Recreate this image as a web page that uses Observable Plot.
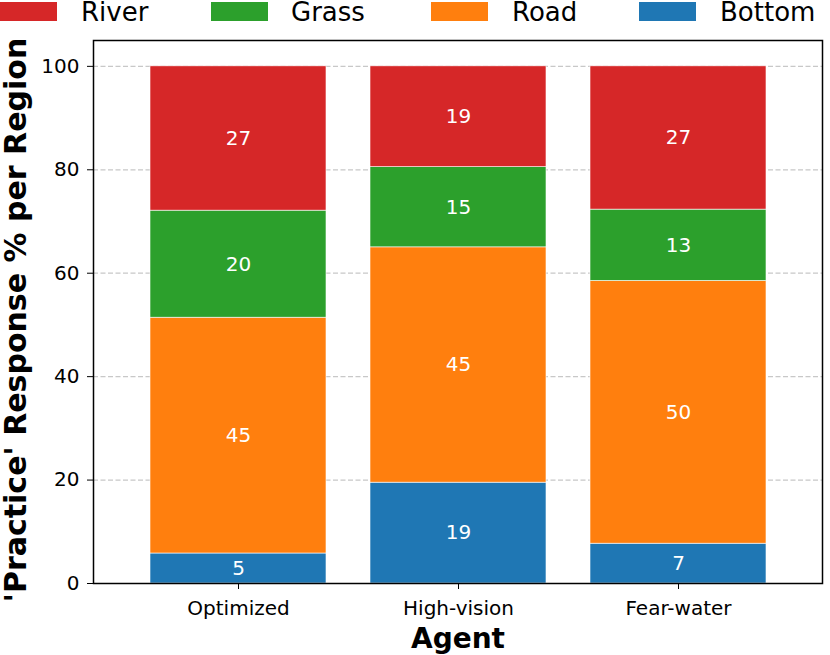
<!DOCTYPE html>
<html>
<head>
<meta charset="utf-8">
<script src="https://cdn.jsdelivr.net/npm/d3@7"></script>
<script src="https://cdn.jsdelivr.net/npm/@observablehq/plot@0.6"></script>
<style>
  html, body { margin: 0; padding: 0; background: #fff; }
  #wrap { width: 830px; height: 655px; position: relative; overflow: hidden; font-family: "DejaVu Sans", sans-serif; }
  #legend { position: relative; width: 830px; height: 30px; }
  .sw { position: absolute; top: 2px; width: 57px; height: 19px; }
  .lt { position: absolute; top: 0px; font-size: 26px; line-height: 24px; color: #000; white-space: nowrap; }
  svg { display: block; }
</style>
</head>
<body>
<div id="wrap">
  <div id="legend"></div>
  <div id="chart"></div>
</div>
<script>
// ---- data ----
const agents = ["Optimized", "High-vision", "Fear-water"];
const regions = ["Bottom", "Road", "Grass", "River"];           // stacking order, bottom to top
const legendOrder = ["River", "Grass", "Road", "Bottom"];
const colors = ["#1f77b4", "#ff7f0e", "#2ca02c", "#d62728"];     // Bottom, Road, Grass, River
const bottomVals = [5.8, 19.5, 7.7];
const roadVals   = [45.6, 45.5, 50.8];
const grassVals  = [20.7, 15.5, 13.8];
const riverVals  = [27.9, 19.5, 27.7];
const yTicks = [0, 20, 40, 60, 80, 100];

const seriesVals = [bottomVals, roadVals, grassVals, riverVals];
const table = [];
agents.forEach((a, i) => {
  regions.forEach((r, j) => {
    table.push({agent: a, region: r, value: seriesVals[j][i]});
  });
});

// ---- legend ----
const legendPos = [{sw: 0, tx: 81}, {sw: 211, tx: 291}, {sw: 431, tx: 512}, {sw: 639, tx: 720}];
const legend = document.getElementById("legend");
legendOrder.forEach((r, k) => {
  const sw = document.createElement("div");
  sw.className = "sw";
  sw.style.left = legendPos[k].sw + "px";
  sw.style.background = colors[regions.indexOf(r)];
  legend.appendChild(sw);
  const t = document.createElement("div");
  t.className = "lt";
  t.style.left = legendPos[k].tx + "px";
  t.textContent = r;
  legend.appendChild(t);
});

// ---- chart ----
const chart = Plot.plot({
  width: 830,
  height: 625,
  marginLeft: 93,
  marginRight: 8,
  marginTop: 10,
  marginBottom: 72,
  style: {fontFamily: "DejaVu Sans, sans-serif", fontSize: "20px", color: "#000", background: "#fff", overflow: "visible"},
  x: {domain: agents, paddingInner: 0.2, paddingOuter: 0.25, label: null, tickSize: 6, tickPadding: 11},
  y: {domain: [0, 105], ticks: yTicks, label: null, tickSize: 6, tickPadding: 8},
  color: {domain: regions, range: colors},
  marks: [
    Plot.ruleY(yTicks, {stroke: "#c8c8c8", strokeWidth: 1.2, strokeDasharray: "5,2.5"}),
    Plot.barY(table, Plot.stackY({x: "agent", y: "value", fill: "region", z: "region", order: regions,
      stroke: "white", strokeWidth: 0.6})),
    Plot.text(table, Plot.stackY({x: "agent", y: "value", z: "region", order: regions,
      text: d => String(Math.floor(d.value)), fill: "white", fontSize: 20})),
    Plot.frame({stroke: "black", strokeWidth: 1.5}),
    Plot.text(["'Practice' Response % per Region"], {frameAnchor: "left", text: d => d, rotate: -90,
      textAnchor: "middle", lineAnchor: "middle", dx: -77, dy: 8, fontSize: 30, fontWeight: "bold", fill: "black"}),
    Plot.text(["Agent"], {frameAnchor: "bottom", text: d => d, textAnchor: "middle", lineAnchor: "middle",
      dy: 55.5, fontSize: 28, fontWeight: "bold", fill: "black"})
  ]
});
document.getElementById("chart").appendChild(chart);
</script>
</body>
</html>
